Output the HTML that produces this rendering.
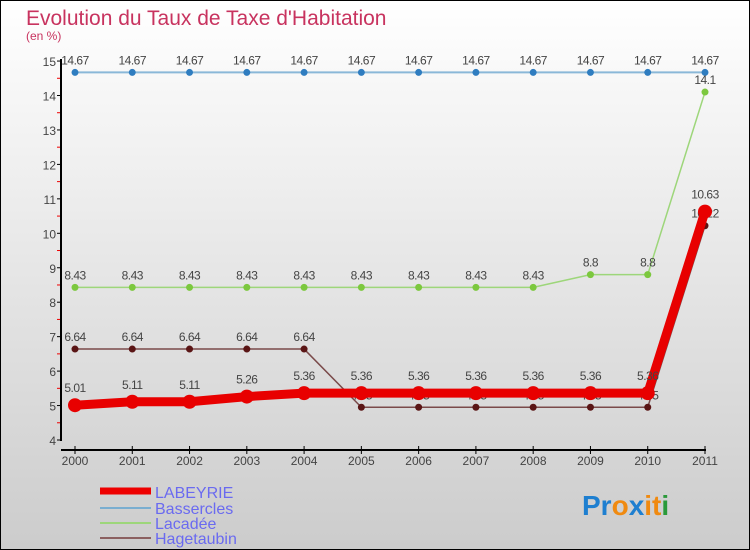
<!DOCTYPE html>
<html><head><meta charset="utf-8"><style>
body{margin:0}
#c{width:748px;height:548px;border:1px solid #000;background:linear-gradient(#fff,#ccc);position:relative;font-family:"Liberation Sans",sans-serif;overflow:hidden}
</style></head><body>
<div id="c">
<svg id="s" width="748" height="548" viewBox="1 1 748 548" style="position:absolute;left:0;top:0">
<text x="26" y="25" font-size="21" fill="#c8335f">Evolution du Taux de Taxe d'Habitation</text>
<text x="26" y="40" font-size="12" fill="#c8335f">(en %)</text>
<g id="axes"></g><g id="series"></g>
<g>
<line x1="100" y1="491" x2="151" y2="491" stroke="#e00" stroke-width="7"/>
<line x1="100" y1="508" x2="151" y2="508" stroke="#7aaed0" stroke-width="2"/>
<line x1="100" y1="523" x2="151" y2="523" stroke="#9dd67a" stroke-width="2"/>
<line x1="100" y1="538" x2="151" y2="538" stroke="#8b6060" stroke-width="2"/>
<text x="155" y="498" font-size="16" fill="#6a6af0">LABEYRIE</text>
<text x="155" y="514" font-size="16" fill="#6a6af0">Bassercles</text>
<text x="155" y="529" font-size="16" fill="#6a6af0">Lacadée</text>
<text x="155" y="544" font-size="16" fill="#6a6af0">Hagetaubin</text>
</g>
<text x="582" y="515" font-size="28" font-weight="bold"><tspan fill="#1e7fd0">Pr</tspan><tspan fill="#f08a10">o</tspan><tspan fill="#1e7fd0">x</tspan><tspan fill="#f08a10">it</tspan><tspan fill="#2a9a3a">i</tspan></text>
</svg></div>
<script>
const years=[2000,2001,2002,2003,2004,2005,2006,2007,2008,2009,2010,2011];
const labeyrie=[5.01,5.11,5.11,5.26,5.36,5.36,5.36,5.36,5.36,5.36,5.36,10.63];
const bassercles=[14.67,14.67,14.67,14.67,14.67,14.67,14.67,14.67,14.67,14.67,14.67,14.67];
const lacadee=[8.43,8.43,8.43,8.43,8.43,8.43,8.43,8.43,8.43,8.8,8.8,14.1];
const hagetaubin=[6.64,6.64,6.64,6.64,6.64,4.95,4.95,4.95,4.95,4.95,4.95,10.22];
const yTicks=[4,5,6,7,8,9,10,11,12,13,14,15];
const NS="http://www.w3.org/2000/svg";
const X=i=>75+i*(630/11), Y=v=>440-(v-4)*34.45;
function mk(p,t,a){const e=document.createElementNS(NS,t);for(const k in a)e.setAttribute(k,a[k]);p.appendChild(e);return e;}
const ax=document.getElementById('axes');
let e=mk(ax,'line',{x1:61,y1:59,x2:61,y2:441,stroke:'#000','stroke-width':2});


e=mk(ax,'line',{x1:61,y1:450,x2:706,y2:450,stroke:'#000','stroke-width':2});


yTicks.forEach(v=>{
 mk(ax,'line',{x1:57,y1:Y(v),x2:62,y2:Y(v),stroke:'#000'});
 if(v<15) mk(ax,'line',{x1:57,y1:Y(v+0.5),x2:60,y2:Y(v+0.5),stroke:'#e00'});
 const t=mk(ax,'text',{x:56,y:Y(v)+5,'font-size':12,'text-anchor':'end',fill:'#444'});t.textContent=v;
 
 
});
years.forEach((y,i)=>{
 mk(ax,'line',{x1:X(i),y1:446,x2:X(i),y2:454,stroke:'#000'});
 const t=mk(ax,'text',{x:X(i),y:465,'font-size':12,'text-anchor':'middle',fill:'#444'});t.textContent=y;
 
 
});
const sg=document.getElementById('series');
function draw(name,vals,color,w,dot,dotc,labOff){
 const g=mk(sg,'g',{});
 
 
 mk(g,'polyline',{points:vals.map((v,i)=>X(i)+','+Y(v)).join(' '),fill:'none',stroke:color,'stroke-width':w,'stroke-linejoin':'round'});
 vals.forEach((v,i)=>{
  const c=mk(g,'circle',{cx:X(i),cy:Y(v),r:dot,fill:dotc});
  
  
  const t=mk(g,'text',{x:X(i),y:Y(v)-labOff,'font-size':12,'text-anchor':'middle',fill:'#444','letter-spacing':'-0.5'});
  t.textContent=v;
  
  
 });
}
draw('bassercles',bassercles,'#8ab8d8',2,3.5,'#2f7dc0',8);
draw('lacadee',lacadee,'#9dd67a',1.5,3.5,'#7cc83e',8);
draw('hagetaubin',hagetaubin,'#7a4a4a',1.5,3.5,'#5a1515',8);
draw('labeyrie',labeyrie,'#e80000',9,7,'#e80000',13);
</script>
</body></html>
